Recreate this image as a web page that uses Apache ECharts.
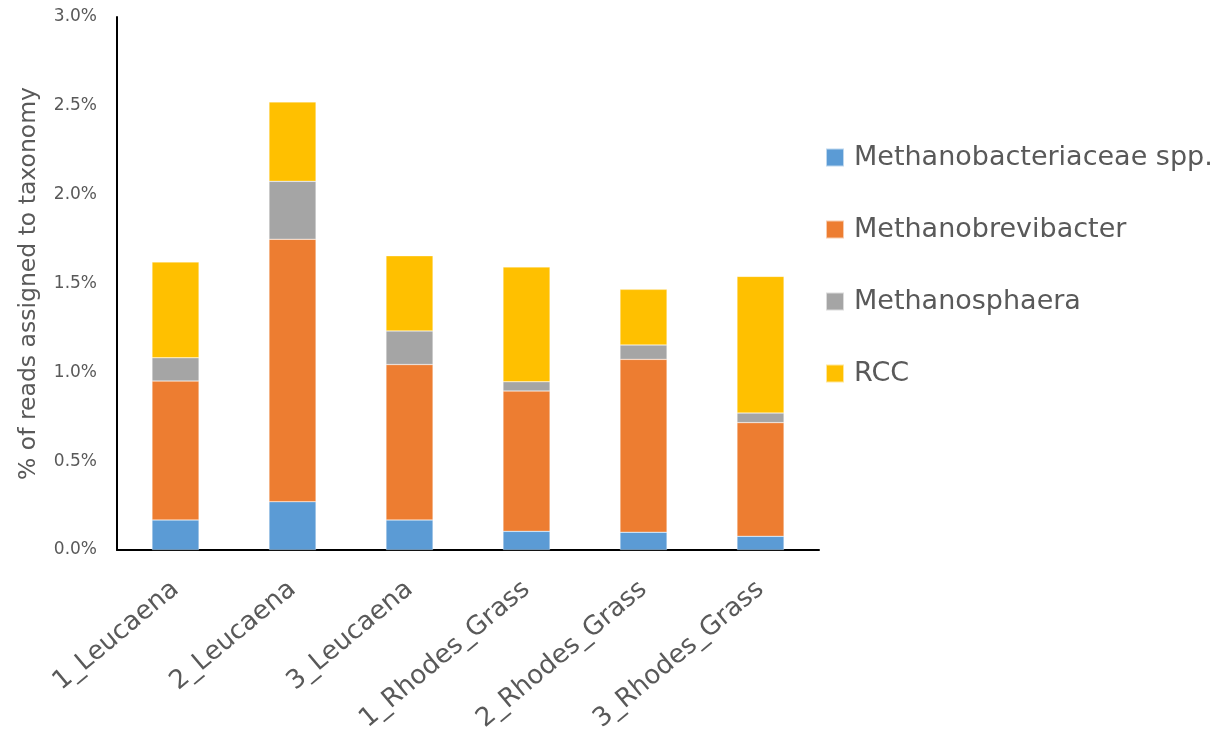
<!DOCTYPE html>
<html>
<head>
<meta charset="utf-8">
<script src="https://cdn.jsdelivr.net/npm/echarts@6/dist/echarts.min.js"></script>
<style>html,body{margin:0;padding:0;background:#fff;}#c{width:1225px;height:733px;}</style>
</head>
<body>
<div id="c"></div>
<script>
const categories = ['1_Leucaena', '2_Leucaena', '3_Leucaena', '1_Rhodes_Grass', '2_Rhodes_Grass', '3_Rhodes_Grass'];
const methanobacteriaceae = [0.169, 0.272, 0.169, 0.105, 0.100, 0.077];
const methanobrevibacter = [0.782, 1.477, 0.875, 0.790, 0.973, 0.640];
const methanosphaera = [0.131, 0.326, 0.189, 0.052, 0.081, 0.054];
const rcc = [0.539, 0.447, 0.423, 0.646, 0.313, 0.769];
const seriesNames = ['Methanobacteriaceae spp.', 'Methanobrevibacter', 'Methanosphaera', 'RCC'];
const yTicks = { min: 0, max: 3.0, interval: 0.5 };

const colors = ['#5B9BD5', '#ED7D31', '#A5A5A5', '#FFC000'];
const font = '"DejaVu Sans", "Noto Sans", sans-serif';
const dataSets = [methanobacteriaceae, methanobrevibacter, methanosphaera, rcc];

const chart = echarts.init(document.getElementById('c'), null, { renderer: 'canvas' });
chart.setOption({
  animation: false,
  backgroundColor: '#ffffff',
  color: colors,
  grid: { left: 117, right: 406, top: 17, bottom: 183, containLabel: false, outerBoundsMode: 'none' },
  legend: {
    orient: 'vertical',
    left: 820,
    top: 139,
    icon: 'rect',
    itemWidth: 18,
    itemHeight: 18,
    itemGap: 45,
    textStyle: { fontFamily: font, fontSize: 27, color: '#595959', lineHeight: 27, padding: [0, 0, 0, 5] },
    data: seriesNames
  },
  xAxis: {
    type: 'category',
    data: categories,
    axisLine: { show: true, lineStyle: { color: '#000000', width: 2 } },
    axisTick: { show: false },
    axisLabel: { rotate: 40, interval: 0, margin: 36, fontFamily: font, fontSize: 26, color: '#595959' }
  },
  yAxis: {
    type: 'value',
    min: yTicks.min,
    max: yTicks.max,
    interval: yTicks.interval,
    name: '% of reads assigned to taxonomy',
    nameLocation: 'middle',
    nameGap: 76,
    nameRotate: 90,
    nameTextStyle: { fontFamily: font, fontSize: 23.5, color: '#595959' },
    axisLine: { show: true, lineStyle: { color: '#000000', width: 2 } },
    axisTick: { show: false },
    splitLine: { show: false },
    axisLabel: { margin: 20, fontFamily: font, fontSize: 17, color: '#595959', formatter: v => v.toFixed(1) + '%' }
  },
  series: seriesNames.map((n, i) => ({
    name: n,
    type: 'bar',
    stack: 'total',
    barWidth: 47,
    data: dataSets[i],
    itemStyle: { color: colors[i], borderColor: 'rgba(255,255,255,0.6)', borderWidth: 0.5 }
  }))
});
</script>
</body>
</html>
